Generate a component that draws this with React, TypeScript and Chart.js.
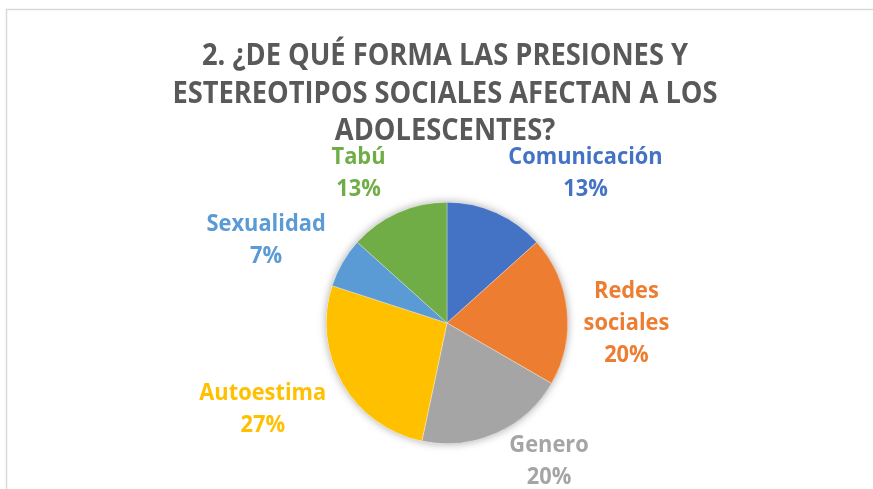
import React, { useEffect, useRef } from "react";
import Chart from "chart.js/auto";

const categories = ["Comunicación", "Redes sociales", "Genero", "Autoestima", "Sexualidad", "Tabú"];
const values = [2, 3, 3, 4, 1, 2];
const sliceColors = ["#4472C4", "#ED7D31", "#A5A5A5", "#FFC000", "#5B9BD5", "#70AD47"];
const labelLines = [["Comunicación"], ["Redes", "sociales"], ["Genero"], ["Autoestima"], ["Sexualidad"], ["Tabú"]];
const titleLines = [
  "2. ¿DE QUÉ FORMA LAS PRESIONES Y",
  "ESTEREOTIPOS SOCIALES AFECTAN A LOS",
  "ADOLESCENTES?",
];

// label placement (in units of the pie radius, relative to pie center)
const labelDX = [1.147, 1.486, 0.845, -1.526, -1.498, -0.733];
const labelDY = [-1.255, -0.015, 1.134, 0.696, -0.697, -1.255];

const FONT_FAMILY = '"Open Sans", "Noto Sans", sans-serif';

function condenseFactor(ctx: CanvasRenderingContext2D) {
  ctx.save();
  ctx.font = `bold 30px ${FONT_FAMILY}`;
  const w = ctx.measureText(titleLines[0]).width;
  ctx.restore();
  return 486 / w;
}

function drawCondensed(ctx: CanvasRenderingContext2D, text: string, x: number, y: number, s: number) {
  ctx.save();
  ctx.translate(x, y);
  ctx.scale(s, 1);
  ctx.fillText(text, 0, 0);
  ctx.restore();
}

const decorPlugin = {
  id: "decor",
  beforeDraw(chart: any) {
    const ctx = chart.ctx as CanvasRenderingContext2D;
    ctx.save();
    ctx.fillStyle = "#ffffff";
    ctx.fillRect(0, 0, chart.width, chart.height);
    ctx.strokeStyle = "#d9d9d9";
    ctx.lineWidth = 1.5;
    ctx.strokeRect(6.5, 9.5, 2000, 2000);
    const s = condenseFactor(ctx);
    ctx.fillStyle = "#595959";
    ctx.font = `bold 30px ${FONT_FAMILY}`;
    ctx.textAlign = "center";
    ctx.textBaseline = "alphabetic";
    const cx = 445;
    titleLines.forEach((t, i) => drawCondensed(ctx, t, cx, 65 + i * 37.5, s));
    ctx.restore();
  },
  beforeDatasetsDraw(chart: any) {
    const meta = chart.getDatasetMeta(0);
    const arc = meta.data[0];
    if (!arc) return;
    const ctx = chart.ctx as CanvasRenderingContext2D;
    ctx.save();
    ctx.shadowColor = "rgba(0,0,0,0.35)";
    ctx.shadowBlur = 9;
    ctx.fillStyle = "#ffffff";
    ctx.beginPath();
    ctx.arc(arc.x, arc.y, arc.outerRadius, 0, Math.PI * 2);
    ctx.fill();
    ctx.restore();
  },
  afterDatasetsDraw(chart: any) {
    const meta = chart.getDatasetMeta(0);
    const ctx = chart.ctx as CanvasRenderingContext2D;
    const s = condenseFactor(ctx);
    const total = values.reduce((a, b) => a + b, 0);
    ctx.save();
    ctx.font = `bold 24px ${FONT_FAMILY}`;
    ctx.textAlign = "center";
    ctx.textBaseline = "alphabetic";
    meta.data.forEach((el: any, i: number) => {
      const r = el.outerRadius;
      const bx = el.x + labelDX[i] * r;
      const by = el.y + labelDY[i] * r;
      const lines = [...labelLines[i], Math.round((values[i] / total) * 100) + "%"];
      const lh = 32;
      ctx.fillStyle = sliceColors[i];
      lines.forEach((t, j) => {
        const y = by + (j - (lines.length - 1) / 2) * lh + 8.5;
        drawCondensed(ctx, t, bx, y, s);
      });
    });
    ctx.restore();
  },
};

export default function App() {
  const ref = useRef<HTMLCanvasElement | null>(null);
  useEffect(() => {
    if (!ref.current) return;
    const chart = new Chart(ref.current, {
      type: "pie",
      data: {
        labels: categories,
        datasets: [
          {
            data: values,
            backgroundColor: sliceColors,
            borderColor: "rgba(255,255,255,0.6)",
            borderWidth: 0.5,
          },
        ],
      },
      options: {
        responsive: false,
        animation: false,
        layout: { padding: { left: 21, right: 0, top: 202, bottom: 45 } },
        plugins: {
          legend: { display: false },
          title: { display: false },
          tooltip: { enabled: false },
        },
      },
      plugins: [decorPlugin],
    });
    return () => chart.destroy();
  }, []);
  return (
    <div style={{ position: "absolute", left: 0, top: 0, width: 873, height: 489, background: "#fff" }}>
      <canvas ref={ref} width={873} height={489} style={{ width: 873, height: 489, display: "block" }} />
    </div>
  );
}
